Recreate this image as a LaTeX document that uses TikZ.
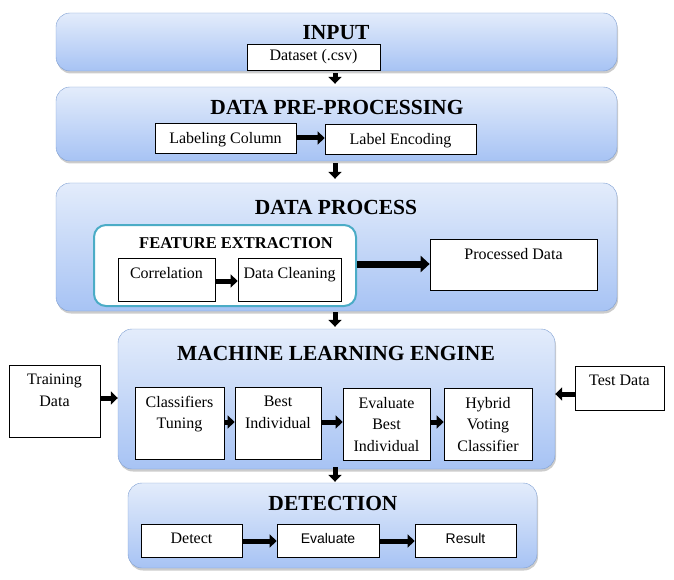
\documentclass[tikz,border=0pt]{standalone}
\usepackage{fontspec}
\setmainfont{Liberation Serif}
\newfontfamily\arialfont{Liberation Sans}
\usetikzlibrary{arrows.meta,shadows}

\definecolor{paneltop}{HTML}{E3ECFB}
\definecolor{panelbot}{HTML}{A7C3F4}
\definecolor{panelline}{HTML}{7D9ED2}
\definecolor{fecolor}{HTML}{4BACC6}

\tikzset{
  panel/.style={draw=panelline,rounded corners=14pt,top color=paneltop,bottom color=panelbot,
    drop shadow={opacity=0.4,shadow xshift=1pt,shadow yshift=-2.5pt}},
  ttl/.style={font=\fontsize{21.5}{24}\selectfont\bfseries},
  box/.style={draw,fill=white,line width=0.7pt,font=\fontsize{16}{21.5}\selectfont},
  toptext/.style={label={[anchor=north,yshift=-6pt,align=center,font=\fontsize{16}{21.5}\selectfont]north:#1}},
  fat/.style={line width=5pt,-{Triangle[length=7pt,width=13pt]}}
}

\begin{document}
\begin{tikzpicture}[x=1pt,y=-1pt]
            \useasboundingbox (0,0) rectangle (674,580);
            % panels
            \node [panel,minimum width=561pt,minimum height=58pt] (input) at (336.5,42) {};
            \node [panel,minimum width=561pt,minimum height=74pt] (pre) at (336.5,124) {};
            \node [panel,minimum width=561pt,minimum height=128pt] (proc) at (336.5,247) {};
            \node [panel,minimum width=437pt,minimum height=140pt] (ml) at (336.5,399) {};
            \node [panel,minimum width=409pt,minimum height=85pt] (det) at (332.5,525.5) {};
            % titles
            \node [ttl] (tinput) at (336,33) {INPUT};
            \node [ttl] (tpre) at (337,107) {DATA PRE-PROCESSING};
            \node [ttl] (tproc) at (336,207) {DATA PROCESS};
            \node [ttl] (tml) at (336,353) {MACHINE LEARNING ENGINE};
            \node [ttl] (tdet) at (333,503) {DETECTION};
            % input
            \node [box,minimum width=133pt,minimum height=26pt,inner sep=0pt] (dataset) at (313.5,57) {Dataset (.csv)};
            % pre-processing
            \node [box,minimum width=141pt,minimum height=30pt,toptext=Labeling Column] (labcol) at (225.5,138) {};
            \node [box,minimum width=151pt,minimum height=30pt,toptext=Label Encoding] (labenc) at (400.5,139) {};
            \draw [fat] (labcol) -- (labcol -| labenc.west);
            % data process
            \node [draw=fecolor,line width=2pt,fill=white,rounded corners=12pt,minimum width=262pt,minimum height=81pt] (fe) at (225,265.5) {};
            \node [font=\fontsize{16.5}{19}\selectfont\bfseries] (tfe) at (236,243) {FEATURE EXTRACTION};
            \node [box,minimum width=97pt,minimum height=43pt,toptext=Correlation] (corr) at (166.5,279.5) {};
            \node [box,minimum width=103pt,minimum height=43pt,toptext=Data Cleaning] (clean) at (289.5,279.5) {};
            \node [box,minimum width=167pt,minimum height=51pt,toptext=Processed Data] (pdata) at (513.5,264.5) {};
            \draw [fat] (corr.east |- 0,281) -- (clean.west |- 0,281);
            \draw [fat,line width=7pt,-{Triangle[length=9pt,width=16pt]}] (fe.east |- 0,264) -- (pdata.west |- 0,264);
            % machine learning engine
            \node [box,minimum width=91pt,minimum height=72pt,toptext={Training\\Data}] (train) at (54.5,401) {};
            \node [box,minimum width=89pt,minimum height=44pt,toptext=Test Data] (test) at (619.5,388) {};
            \node [box,minimum width=89pt,minimum height=72pt,toptext={Classifiers\\Tuning}] (tune) at (179.5,423) {};
            \node [box,minimum width=86pt,minimum height=72pt,toptext={Best\\Individual}] (best) at (278,423) {};
            \node [box,minimum width=87pt,minimum height=72pt,toptext={Evaluate\\Best\\Individual}] (evbest) at (386.5,424) {};
            \node [box,minimum width=88pt,minimum height=72pt,toptext={Hybrid\\Voting\\Classifier}] (hybrid) at (488,424) {};
            \draw [fat] (train.east |- 0,398) -- (ml.west |- 0,398);
            \draw [fat] (test.west |- 0,394) -- (ml.east |- 0,394);
            \draw [fat] (tune.east |- 0,422) -- (best.west |- 0,422);
            \draw [fat] (best.east |- 0,422) -- (evbest.west |- 0,422);
            \draw [fat] (evbest.east |- 0,422) -- (hybrid.west |- 0,422);
            % detection
            \node [box,minimum width=101pt,minimum height=33pt,toptext=Detect] (detect) at (191.5,540.5) {};
            \node [box,minimum width=102pt,minimum height=33pt,toptext={\arialfont\fontsize{14}{16}\selectfont Evaluate}] (evaluate) at (328,540.5) {};
            \node [box,minimum width=101pt,minimum height=33pt,toptext={\arialfont\fontsize{14}{16}\selectfont Result}] (result) at (465.5,540.5) {};
            \draw [fat] (detect.east |- 0,541) -- (evaluate.west |- 0,541);
            \draw [fat] (evaluate.east |- 0,541) -- (result.west |- 0,541);
            % between panels
            \draw [fat,shorten <=2pt,shorten >=3pt] (input.south -| 335,0) -- (pre.north -| 335,0);
            \draw [fat,shorten <=2pt,shorten >=4pt] (pre.south -| 335,0) -- (proc.north -| 335,0);
            \draw [fat,shorten <=1pt,shorten >=2pt] (proc.south -| 335,0) -- (ml.north -| 335,0);
            \draw [fat,shorten <=-2pt,shorten >=1pt] (ml.south -| 335,0) -- (det.north -| 335,0);
\end{tikzpicture}
\end{document}
